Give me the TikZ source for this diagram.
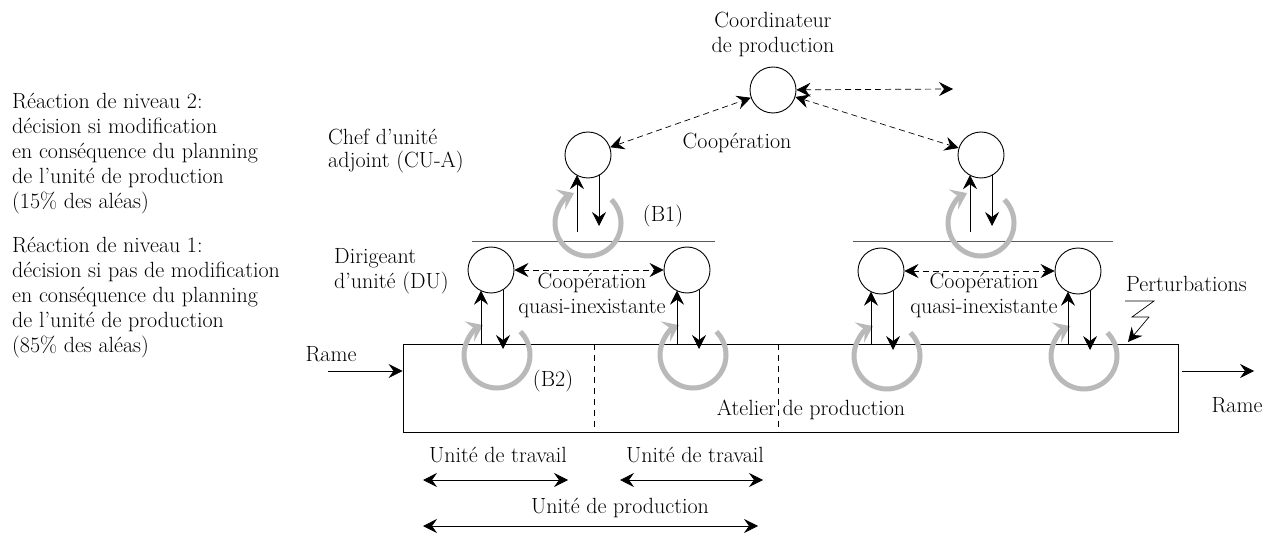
\documentclass[tikz,border=0pt]{standalone}
\usetikzlibrary{arrows.meta,calc}
\definecolor{loopgray}{RGB}{185,185,185}
\definecolor{sepgray}{RGB}{90,90,90}
\newcommand\fs{\fontsize{22}{25}\selectfont}
\begin{document}
\begin{tikzpicture}[x=1pt,y=1pt,
  txt/.style={font=\fs,inner sep=0pt},
  circ/.style={draw,circle,minimum size=46pt,inner sep=0pt,line width=0.9pt},
  arr/.style={-{Stealth[length=14pt,width=14pt,inset=5pt]},line width=0.7pt},
  darr/.style={{Stealth[length=14pt,width=14pt,inset=5pt]}-{Stealth[length=14pt,width=14pt,inset=5pt]},line width=0.7pt,dash pattern=on 6pt off 4pt},
  harr/.style={{Stealth[length=14pt,width=14pt,inset=5pt]}-{Stealth[length=14pt,width=14pt,inset=5pt]},line width=0.7pt},
  loopa/.style={-{Stealth[length=15pt,width=22pt,inset=6pt]},line width=5pt,color=loopgray},
  sep/.style={line width=0.8pt,color=sepgray}]
\useasboundingbox (0,0) rectangle (1273,-534);

% left texts
\node[txt,anchor=west,align=left] (lvl2) at (12,-154) {R\'eaction de niveau 2:\\d\'ecision si modification\\en cons\'equence du planning\\de l'unit\'e de production\\(15\% des al\'eas)};
\node[txt,anchor=west,align=left] (lvl1) at (12,-297.5) {R\'eaction de niveau 1:\\d\'ecision si pas de modification\\en cons\'equence du planning\\de l'unit\'e de production\\(85\% des al\'eas)};

% role labels
\node[txt,anchor=west,align=left,font=\fontsize{22}{23}\selectfont] (cualab) at (328,-151.5) {Chef d'unit\'e\\adjoint (CU-A)};
\node[txt,anchor=west,align=left] (dulab) at (334,-271.5) {Dirigeant\\d'unit\'e (DU)};
\node[txt,align=center] (coordlab) at (773,-34.5) {Coordinateur\\de production};

% circles
\node[circ] (coord) at (773,-90) {};
\node[circ] (cuaL) at (588,-155) {};
\node[circ] (cuaR) at (981,-155) {};
\node[circ] (du1) at (491,-270) {};
\node[circ] (du2) at (687,-270) {};
\node[circ] (du3) at (881,-271) {};
\node[circ] (du4) at (1078,-271) {};

% workshop
\node[draw,line width=0.9pt,minimum width=775pt,minimum height=88pt,inner sep=0pt] (atelier) at (790.5,-388) {};
\draw[dashed,line width=0.7pt,dash pattern=on 6pt off 5pt] (atelier.north -| 594,0) -- (atelier.south -| 594,0);
\draw[dashed,line width=0.7pt,dash pattern=on 6pt off 5pt] (atelier.north -| 778,0) -- (atelier.south -| 778,0);
\node[txt] (atlab) at (811,-410) {Atelier de production};

% level separators
\draw[sep] (472,-241) -- (715,-241);
\draw[sep] (853,-241) -- (1113,-241);

% cooperation arrows
\coordinate (cR) at (953,-89);
\draw[darr] (cuaL) -- (coord);
\draw[darr] (coord) -- (cuaR);
\draw[darr] (coord) -- (cR);
\draw[darr] (du1) -- (du2);
\draw[darr] (du3) -- (du4);
\node[txt] (coop) at (737,-143) {Coop\'eration};
\node[txt,align=center] (coopq1) at (592,-295.5) {Coop\'eration\\quasi-inexistante};
\node[txt,align=center] (coopq2) at (984,-295.5) {Coop\'eration\\quasi-inexistante};

% loops of DU
\foreach \n in {du1,du2,du3,du4}{
  \draw[loopa] ($(\n)+(6,-85)$) ++(45:33) arc[start angle=45,end angle=-245,radius=33];
  \draw[arr] ($(\n)+(-10,-74)$) -- ($(\n)+(-10,-20.7)$);
  \draw[arr] ($(\n)+(12,-19.7)$) -- ($(\n)+(12,-79)$);
}
% loops of CU-A
\foreach \n in {cuaL,cuaR}{
  \draw[loopa] ($(\n)+(0,-68)$) ++(45:33) arc[start angle=45,end angle=-245,radius=33];
  \draw[arr] ($(\n)+(-11,-77)$) -- ($(\n)+(-11,-20.2)$);
  \draw[arr] ($(\n)+(11,-20.2)$) -- ($(\n)+(11,-71)$);
}
\node[txt] (b1) at (663,-216) {(B1)};
\node[txt] (b2) at (553,-381) {(B2)};

% input / output
\node[txt] (ramein) at (331,-354) {Rame};
\coordinate (inS) at (328,-371);
\draw[arr] (inS) -- (atelier.west |- inS);
\coordinate (outE) at (1254,-371);
\draw[arr] (atelier.east |- outE) ++(4,0) -- (outE);
\node[txt] (rameout) at (1237,-405) {Rame};

% perturbations
\node[txt,anchor=west] (pert) at (1126,-284) {Perturbations};
\coordinate (pz) at (1125,-301);
\draw[line width=0.7pt] (pz) -- (1154,-301) -- (1132,-317) -- (1149,-317);
\draw[arr] (1149,-317) -- (1128,-342);

% units
\node[txt] (ut1) at (498,-455) {Unit\'e de travail};
\node[txt] (ut2) at (695,-455) {Unit\'e de travail};
\node[txt] (up) at (620,-508) {Unit\'e de production};
\coordinate (ut1a) at (423,-480); \coordinate (ut1b) at (568,-480);
\coordinate (ut2a) at (620,-480); \coordinate (ut2b) at (763,-480);
\coordinate (upa) at (423,-526); \coordinate (upb) at (758,-526);
\draw[harr] (ut1a) -- (ut1b);
\draw[harr] (ut2a) -- (ut2b);
\draw[harr] (upa) -- (upb);
\end{tikzpicture}
\end{document}
